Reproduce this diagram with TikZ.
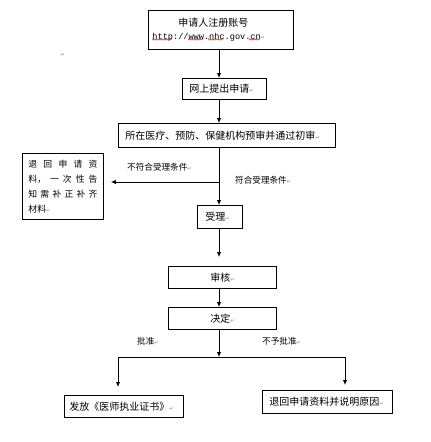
\documentclass[tikz,border=0pt]{standalone}
\usepackage{fontspec}
\usetikzlibrary{arrows.meta,decorations.pathmorphing}
\newfontfamily\cjk{Noto Sans CJK SC}
\newfontfamily\symf{DejaVu Sans}
\newfontfamily\urlf{Liberation Mono}
\newcommand\retmk{{\symf\fontsize{5}{5}\selectfont\textcolor{gray}{↵}}}
\begin{document}
\begin{tikzpicture}[x=1pt,y=-1pt,
  box/.style={draw, line width=0.9pt, anchor=north west, inner ysep=1pt, align=left,
    font=\cjk\fontsize{10}{13}\selectfont},
  lbl/.style={anchor=west, inner sep=0pt, font=\cjk\fontsize{8.6}{10}\selectfont},
  arr/.style={line width=0.9pt, -{Latex[length=5pt,width=4.5pt]}},
  ln/.style={line width=0.9pt},
  wavy/.style={red, line width=0.4pt, decorate, decoration={snake, amplitude=0.6pt, segment length=2pt}}]
\useasboundingbox (0,0) rectangle (431,442);
\coordinate (ax) at (219,0);
% boxes
\node[box, inner xsep=4pt, text width=137pt, minimum height=39pt] (b1) at (148,10)
  {\hspace*{26pt}申请人注册账号\\{\urlf\fontsize{8.6}{13}\selectfont http://www.nhc.gov.cn}\retmk};
\node[box, inner xsep=7pt, text width=70pt, minimum height=21pt] (b2) at (182,78) {网上提出申请\retmk};
\node[box, inner xsep=7pt, text width=203pt, minimum height=24pt] (b3) at (118,123) {所在医疗、预防、保健机构预审并通过初审\retmk};
\node[box, inner xsep=6pt, text width=69pt, minimum height=66pt, font=\cjk\fontsize{8.8}{15}\selectfont] (lb) at (22,153)
  {\makebox[69pt][s]{退\hfill 回\hfill 申\hfill 请\hfill 资}\\
   \makebox[69pt][s]{料，\hfill 一\hfill 次\hfill 性\hfill 告}\\
   \makebox[69pt][s]{知\hfill 需\hfill 补\hfill 正\hfill 补\hfill 齐}\\
   材料\retmk};
\node[box, inner xsep=8pt, text width=29pt, minimum height=23pt] (sl) at (197,205) {受理\retmk};
\node[box, inner xsep=4pt, text width=100pt, minimum height=22pt, align=center] (sh) at (168,266) {审核\retmk};
\node[box, inner xsep=4pt, text width=100pt, minimum height=22pt, align=center] (jd) at (168,307) {决定\retmk};
\node[box, inner xsep=5pt, text width=109pt, minimum height=22pt] (fb) at (64,395) {发放《医师执业证书》\retmk};
\node[box, inner xsep=7pt, text width=116pt, minimum height=23pt] (rb) at (262,390) {退回申请资料并说明原因\retmk};
% spell-check underlines
\draw[wavy] (152,39.5) -- (172,39.5);
\draw[wavy] (188,39.5) -- (203,39.5);
\draw[wavy] (208,39.5) -- (223,39.5);
\draw[wavy] (249,39.5) -- (260,39.5);
% labels
\node[lbl] (l1) at (127,167) {不符合受理条件\retmk};
\node[lbl] (l2) at (235,180) {符合受理条件\retmk};
\node[lbl] (l3) at (137,341) {批准\retmk};
\node[lbl] (l4) at (262,341) {不予批准\retmk};
\node[inner sep=0pt] (stray) at (63,55) {\retmk};
% junctions
\coordinate (j1) at (219,182);
\coordinate (j2) at (219,357);
\coordinate (jl) at (118,357);
\coordinate (jr) at (345,357);
% connectors
\draw[arr] (b1.south -| ax) -- (b2.north -| ax);
\draw[arr] (b2.south -| ax) -- (b3.north -| ax);
\draw[arr] (b3.south -| ax) -- (sl.north -| ax);
\draw[arr, shorten >=7pt] (j1) -- (lb.east |- j1);
\draw[arr, shorten >=9pt] (sl.south -| ax) -- (sh.north -| ax);
\draw[arr] (sh.south -| ax) -- (jd.north -| ax);
\draw[arr] (jd.south -| ax) -- (j2);
\draw[ln] (jl) -- (jr);
\draw[arr, shorten >=8pt] (jl) -- (fb.north -| jl);
\draw[arr, shorten >=5pt] (jr) -- (rb.north -| jr);
\end{tikzpicture}
\end{document}
